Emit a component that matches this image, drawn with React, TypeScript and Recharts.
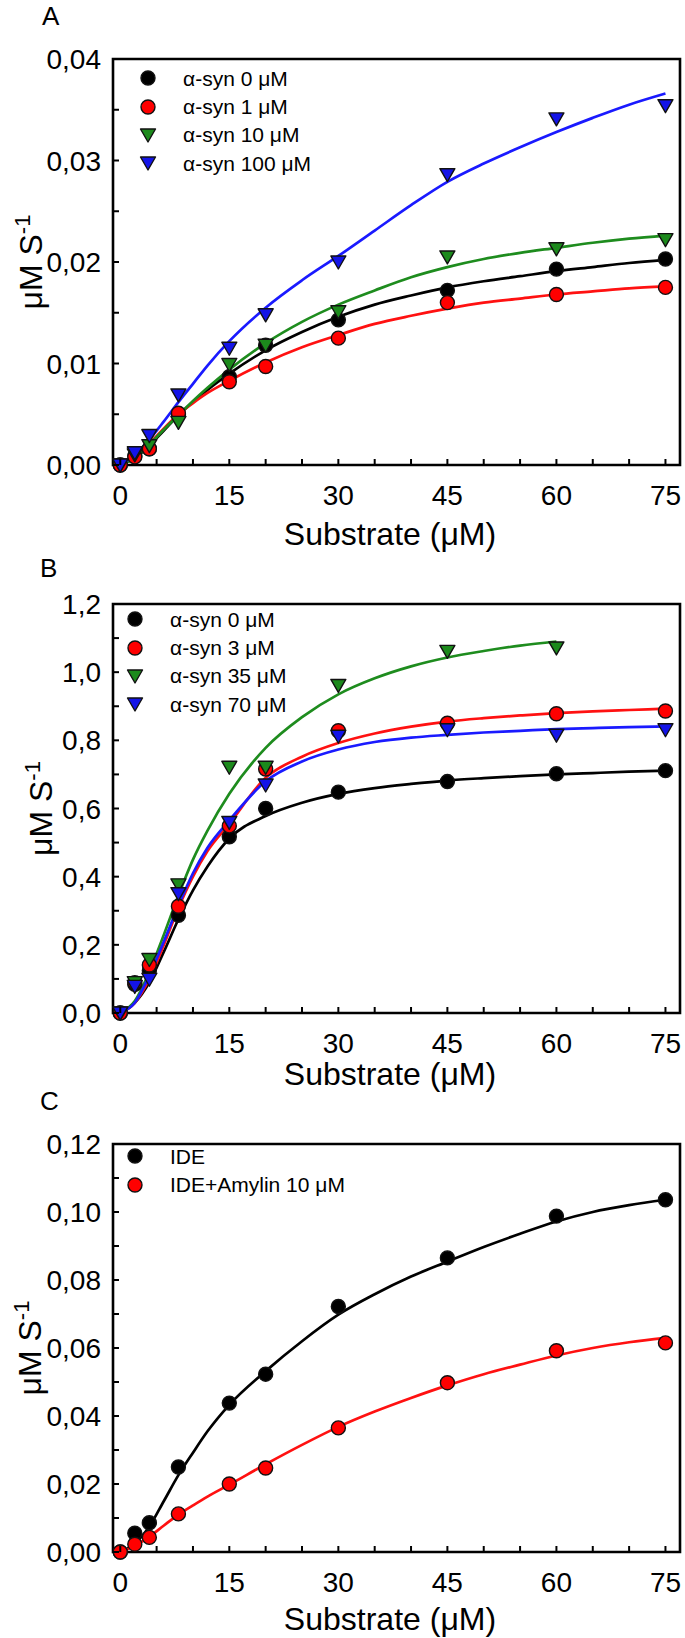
import React from "react";
import { ComposedChart, Legend, Line, ReferenceArea, Scatter, XAxis, YAxis } from "recharts";

const FONT = '"Liberation Sans", Arial, Helvetica, sans-serif';

// measured substrate concentrations (µM)
const substrate = [0, 2, 4, 8, 15, 20, 30, 45, 60, 75];
const fitX = [0, 2, 4, 6, 8, 10, 12, 15, 20, 25, 30, 35, 40, 45, 50, 55, 60, 65, 70, 75];

const xMajor = [0, 15, 30, 45, 60, 75];
const xMinor = [5, 10, 20, 25, 35, 40, 50, 55, 65, 70];

// panel A
const yMajorA = [0, 0.01, 0.02, 0.03, 0.04];
const yMinorA = [0.005, 0.015, 0.025, 0.035];
const rateA0 = [0, 0.0009, 0.0016, 0.005, 0.0087, 0.0118, 0.0143, 0.0172, 0.0193, 0.0203];
const rateA1 = [0, 0.0008, 0.0016, 0.0051, 0.0082, 0.0097, 0.0125, 0.016, 0.0168, 0.0175];
const rateA10 = [0, 0.001, 0.0019, 0.0042, 0.0099, 0.0118, 0.0151, 0.0205, 0.0213, 0.0222];
const rateA100 = [0, 0.0012, 0.0029, 0.0069, 0.0115, 0.0148, 0.02, 0.0286, 0.0341, 0.0354];
const fitA0 = [0, 0.0007, 0.0019, 0.0034, 0.0049, 0.0062, 0.0074, 0.009, 0.0113, 0.0131, 0.0146, 0.0158, 0.0167, 0.0175, 0.0181, 0.0186, 0.0191, 0.0195, 0.0199, 0.0202];
const fitA1 = [0, 0.0008, 0.0021, 0.0036, 0.005, 0.0061, 0.0071, 0.0083, 0.0101, 0.0116, 0.0128, 0.0139, 0.0147, 0.0154, 0.016, 0.0164, 0.0168, 0.0171, 0.0174, 0.0176];
const fitA10 = [0, 0.0007, 0.002, 0.0035, 0.0049, 0.0063, 0.0076, 0.0094, 0.012, 0.0141, 0.0158, 0.0172, 0.0185, 0.0195, 0.0203, 0.0209, 0.0214, 0.0219, 0.0223, 0.0226];
const fitA100 = [0, 0.001, 0.0025, 0.0043, 0.0062, 0.008, 0.0098, 0.0122, 0.0155, 0.0182, 0.0206, 0.0231, 0.0256, 0.0279, 0.0297, 0.0313, 0.0328, 0.0342, 0.0355, 0.0366];

// panel B
const yMajorB = [0, 0.2, 0.4, 0.6, 0.8, 1.0, 1.2];
const yMinorB = [0.1, 0.3, 0.5, 0.7, 0.9, 1.1];
const rateB0 = [0, 0.084, 0.125, 0.287, 0.517, 0.6, 0.648, 0.679, 0.702, 0.711];
const rateB3 = [0, 0.089, 0.141, 0.313, 0.549, 0.716, 0.828, 0.85, 0.878, 0.886];
const rateB35 = [0, 0.089, 0.157, 0.376, 0.721, 0.721, 0.961, 1.061, 1.071];
const rateB70 = [0, 0.078, 0.099, 0.35, 0.559, 0.669, 0.812, 0.831, 0.815, 0.831];
const fitB0 = [0, 0.03, 0.09, 0.18, 0.275, 0.36, 0.43, 0.512, 0.578, 0.617, 0.643, 0.66, 0.672, 0.682, 0.689, 0.695, 0.7, 0.704, 0.708, 0.711];
const fitB3 = [0, 0.03, 0.1, 0.2, 0.308, 0.4, 0.475, 0.555, 0.69, 0.752, 0.792, 0.82, 0.84, 0.855, 0.865, 0.873, 0.88, 0.885, 0.889, 0.893];
const fitB35 = [0, 0.035, 0.12, 0.23, 0.345, 0.45, 0.535, 0.643, 0.778, 0.868, 0.935, 0.982, 1.017, 1.043, 1.062, 1.078, 1.09];
const fitB70 = [0, 0.03, 0.11, 0.21, 0.315, 0.41, 0.485, 0.565, 0.68, 0.738, 0.773, 0.795, 0.808, 0.816, 0.823, 0.828, 0.833, 0.836, 0.839, 0.841];

// panel C
const yMajorC = [0, 0.02, 0.04, 0.06, 0.08, 0.1, 0.12];
const yMinorC = [0.01, 0.03, 0.05, 0.07, 0.09, 0.11];
const rateIde = [0, 0.0055, 0.0086, 0.025, 0.0438, 0.0523, 0.0722, 0.0865, 0.0988, 0.1036];
const rateAmylin = [0, 0.0023, 0.0043, 0.0112, 0.02, 0.0247, 0.0365, 0.0498, 0.0592, 0.0615];
const fitIde = [0, 0.0025, 0.0075, 0.015, 0.0226, 0.0292, 0.0355, 0.0433, 0.0532, 0.062, 0.0698, 0.0758, 0.081, 0.0854, 0.0897, 0.0936, 0.0972, 0.1, 0.102, 0.1036];
const fitAmylin = [0, 0.0018, 0.0045, 0.0078, 0.011, 0.0137, 0.0163, 0.0198, 0.0258, 0.0315, 0.0368, 0.0413, 0.0453, 0.049, 0.0523, 0.0551, 0.0578, 0.06, 0.0617, 0.063];

const BLACK = "#000000";
const RED = "#ff1111";
const GREEN = "#1e8c1e";
const BLUE = "#1a1aff";

type Series = {
  name: string;
  line: string;
  fill: string;
  marker: "circle" | "triangle";
  values: number[];
  fit: number[];
};

const toPoints = (xs: number[], ys: number[]) => ys.map((y, i) => ({ x: xs[i], y }));

function markerPath(kind: "circle" | "triangle", cx: number, cy: number, fill: string) {
  if (kind === "circle") {
    return <circle cx={cx} cy={cy} r={7} fill={fill} stroke="#111" strokeWidth={1.4} />;
  }
  return (
    <path
      d={`M${cx - 7.5},${cy - 6} L${cx + 7.5},${cy - 6} L${cx},${cy + 7} Z`}
      fill={fill}
      stroke="#111"
      strokeWidth={1.4}
      strokeLinejoin="round"
    />
  );
}

const fmt = (v: number, d: number) => v.toFixed(d).replace(".", ",");

type PanelProps = {
  top: number;
  height: number;
  marginTop: number;
  marginBottom: number;
  letter: string;
  letterX: number;
  letterY: number;
  yMajor: number[];
  yMinor: number[];
  decimals: number;
  yTitleX: number;
  titleGap: number;
  legendLeft: number;
  legendTop: number;
  series: Series[];
};

function Panel(p: PanelProps) {
  const plotTop = p.marginTop;
  const plotBottom = p.height - p.marginBottom - 70;
  const yMax = p.yMajor[p.yMajor.length - 1];
  const yTicks = [...p.yMajor, ...p.yMinor].sort((a, b) => a - b);
  const xTicks = [...xMajor, ...xMinor].sort((a, b) => a - b);

  const xTick = (t: any) => {
    const v = t.payload.value;
    return (
      <g>
        <line x1={t.x} x2={t.x} y1={t.y} y2={t.y - 6} stroke="#000" strokeWidth={2} />
        {xMajor.includes(v) && (
          <text x={t.x} y={t.y + 40} textAnchor="middle" fontSize={28} fontFamily={FONT} fill="#000">
            {v}
          </text>
        )}
      </g>
    );
  };

  const yTick = (t: any) => {
    const v = t.payload.value;
    return (
      <g>
        <line x1={t.x} x2={t.x + 6} y1={t.y} y2={t.y} stroke="#000" strokeWidth={2} />
        {p.yMajor.includes(v) && (
          <text x={t.x - 12} y={t.y + 10} textAnchor="end" fontSize={28} fontFamily={FONT} fill="#000">
            {fmt(v, p.decimals)}
          </text>
        )}
      </g>
    );
  };

  const xTitle = () => (
    <text x={390} y={plotBottom + p.titleGap} textAnchor="middle" fontSize={32} fontFamily={FONT} fill="#000">
      Substrate (μM)
    </text>
  );

  const yTitle = () => (
    <g>
      <text x={p.letterX} y={p.letterY} fontSize={26} fontFamily={FONT} fill="#000">
        {p.letter}
      </text>
      <text
        transform={`translate(${p.yTitleX},${(plotTop + plotBottom) / 2}) rotate(-90)`}
        textAnchor="middle"
        fontSize={32}
        fontFamily={FONT}
        fill="#000"
      >
        μM S
        <tspan fontSize={22} dy={-12}>
          -1
        </tspan>
      </text>
    </g>
  );

  const legend = () => (
    <div style={{ fontFamily: FONT, fontSize: 21, color: "#000" }}>
      {p.series.map((s) => (
        <div key={s.name} style={{ display: "flex", alignItems: "center", height: 28.4 }}>
          <svg width={18} height={18} style={{ display: "block" }}>
            {markerPath(s.marker, 9, 9, s.fill)}
          </svg>
          <span style={{ marginLeft: 26, lineHeight: 1, whiteSpace: "nowrap" }}>{s.name}</span>
        </div>
      ))}
    </div>
  );

  return (
    <div style={{ position: "absolute", left: 0, top: p.top, width: 685, height: p.height }}>
      <ComposedChart
        width={685}
        height={p.height}
        margin={{ top: p.marginTop, right: 5, bottom: p.marginBottom, left: 0 }}
      >
        <XAxis
          type="number"
          dataKey="x"
          domain={[-1, 77]}
          ticks={xTicks}
          interval={0}
          axisLine={false}
          tickLine={false}
          tickSize={0}
          tickMargin={0}
          height={70}
          tick={xTick}
          label={xTitle}
        />
        <YAxis
          type="number"
          domain={[0, yMax]}
          ticks={yTicks}
          interval={0}
          axisLine={false}
          tickLine={false}
          tickSize={0}
          tickMargin={0}
          width={113}
          tick={yTick}
          label={yTitle}
        />
        <ReferenceArea x1={-1} x2={77} y1={0} y2={yMax} fill="none" stroke="#000" strokeWidth={2.6} />
        {p.series.map((s) => (
          <Line
            key={"fit-" + s.name}
            data={toPoints(fitX, s.fit)}
            dataKey="y"
            type="monotone"
            stroke={s.line}
            strokeWidth={2.7}
            dot={false}
            activeDot={false}
            isAnimationActive={false}
          />
        ))}
        {p.series.map((s) => (
          <Scatter
            key={"pts-" + s.name}
            data={toPoints(substrate, s.values)}
            dataKey="y"
            shape={(sp: any) => markerPath(s.marker, sp.cx, sp.cy, s.fill)}
            isAnimationActive={false}
          />
        ))}
        <Legend
          layout="vertical"
          align="center"
          verticalAlign="middle"
          wrapperStyle={{ left: p.legendLeft, top: p.legendTop, width: "auto" }}
          content={legend}
        />
      </ComposedChart>
    </div>
  );
}

const seriesA: Series[] = [
  { name: "α-syn 0 μM", line: BLACK, fill: "#000", marker: "circle", values: rateA0, fit: fitA0 },
  { name: "α-syn 1 μM", line: RED, fill: "#ff0000", marker: "circle", values: rateA1, fit: fitA1 },
  { name: "α-syn 10 μM", line: GREEN, fill: "#1c8a1c", marker: "triangle", values: rateA10, fit: fitA10 },
  { name: "α-syn 100 μM", line: BLUE, fill: "#1414e8", marker: "triangle", values: rateA100, fit: fitA100 },
];

const seriesB: Series[] = [
  { name: "α-syn 0 μM", line: BLACK, fill: "#000", marker: "circle", values: rateB0, fit: fitB0 },
  { name: "α-syn 3 μM", line: RED, fill: "#ff0000", marker: "circle", values: rateB3, fit: fitB3 },
  { name: "α-syn 35 μM", line: GREEN, fill: "#1c8a1c", marker: "triangle", values: rateB35, fit: fitB35 },
  { name: "α-syn 70 μM", line: BLUE, fill: "#1414e8", marker: "triangle", values: rateB70, fit: fitB70 },
];

const seriesC: Series[] = [
  { name: "IDE", line: BLACK, fill: "#000", marker: "circle", values: rateIde, fit: fitIde },
  { name: "IDE+Amylin 10 μM", line: RED, fill: "#ff0000", marker: "circle", values: rateAmylin, fit: fitAmylin },
];

export default function App() {
  return (
    <div style={{ position: "absolute", left: 0, top: 0, width: 685, height: 1638, background: "#fff" }}>
      <Panel
        top={0}
        height={560}
        marginTop={59}
        marginBottom={25}
        letter="A"
        letterX={42}
        letterY={25}
        yMajor={yMajorA}
        yMinor={yMinorA}
        decimals={2}
        yTitleX={42}
        titleGap={80}
        legendLeft={139}
        legendTop={64}
        series={seriesA}
      />
      <Panel
        top={545}
        height={560}
        marginTop={59}
        marginBottom={22}
        letter="B"
        letterX={40}
        letterY={32}
        yMajor={yMajorB}
        yMinor={yMinorB}
        decimals={1}
        yTitleX={52}
        titleGap={72}
        legendLeft={126}
        legendTop={60}
        series={seriesB}
      />
      <Panel
        top={1075}
        height={563}
        marginTop={69}
        marginBottom={16}
        letter="C"
        letterX={40}
        letterY={35}
        yMajor={yMajorC}
        yMinor={yMinorC}
        decimals={2}
        yTitleX={41}
        titleGap={78}
        legendLeft={126}
        legendTop={67}
        series={seriesC}
      />
    </div>
  );
}
